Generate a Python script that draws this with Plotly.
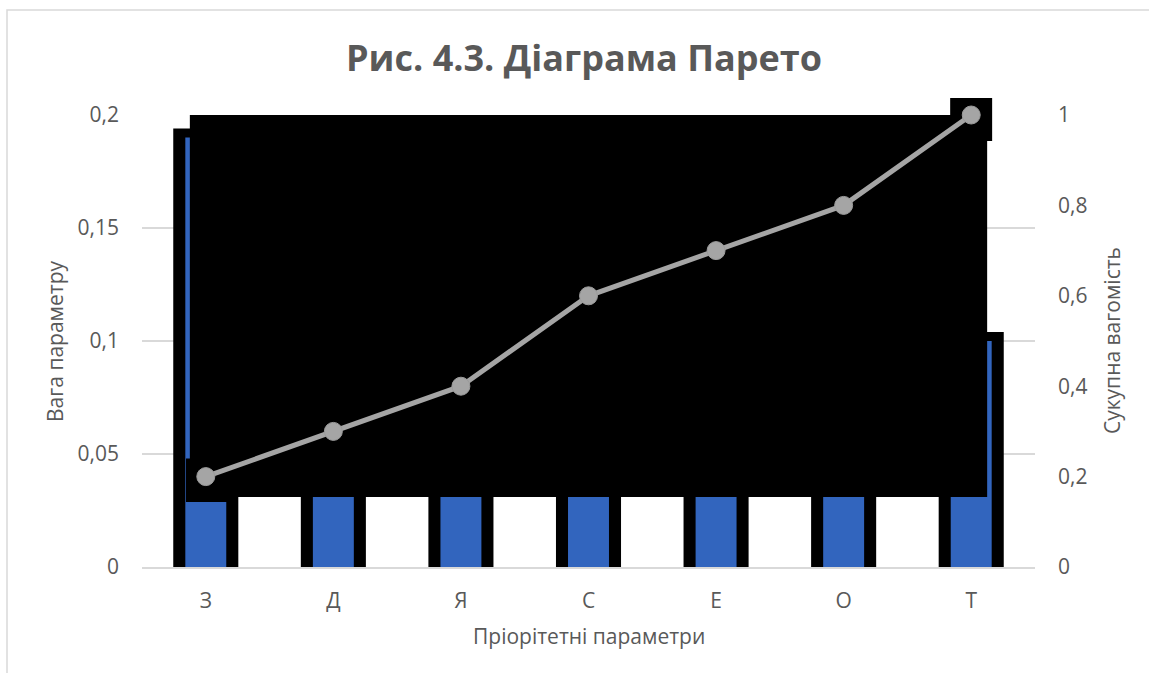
import plotly.graph_objects as go

# Pareto data: priority parameters, their weights and the cumulative share
categories = ["З", "Д", "Я", "С", "Е", "О", "Т"]
weights = [0.19, 0.10, 0.10, 0.20, 0.10, 0.10, 0.10]
cumulative = [0.2, 0.3, 0.4, 0.6, 0.7, 0.8, 1.0]

left_ticks = [0, 0.05, 0.1, 0.15, 0.2]
right_ticks = [0, 0.2, 0.4, 0.6, 0.8, 1.0]

# dark fill panel drawn over the upper part of the columns (data units)
panel_x = [-0.125, 6.125, 6.125, 0.17, 0.17, -0.155, -0.155, -0.125, -0.125]
panel_y = [0.2, 0.2, 0.031, 0.031, 0.0288, 0.0288, 0.048, 0.048, 0.2]
cap_x = [5.835, 6.164, 6.164, 5.835, 5.835]
cap_y = [0.2, 0.2, 0.1885, 0.1885, 0.2]

W, H = 1149, 673
ML, MR, MT, MB = 142, 114, 115, 106

grey_text = "#595959"
font_family = "Open Sans"
tick_size = 21

x_pos = list(range(len(categories)))
# dark frame behind each column, slightly taller than the column itself
frame_heights = [w + 0.004 for w in weights]

fig = go.Figure()

fig.add_trace(go.Bar(
    x=x_pos, y=frame_heights, width=0.51,
    marker=dict(color="#000000", line=dict(width=0)),
    hoverinfo="skip", showlegend=False,
))
fig.add_trace(go.Bar(
    x=x_pos, y=weights, width=0.321,
    marker=dict(color="#3265BE", line=dict(width=0)),
    hoverinfo="skip", showlegend=False,
))

fig.add_trace(go.Scatter(
    x=panel_x, y=panel_y, mode="none", fill="toself",
    fillcolor="#000000", hoverinfo="skip", showlegend=False,
))
fig.add_trace(go.Scatter(
    x=cap_x, y=cap_y, mode="none", fill="toself",
    fillcolor="#000000", hoverinfo="skip", showlegend=False,
))

fig.add_trace(go.Scatter(
    x=x_pos,
    y=cumulative,
    yaxis="y2",
    mode="lines+markers",
    line=dict(color="#A5A5A5", width=5),
    marker=dict(size=18, color="#A5A5A5", line=dict(color="#9B9B9B", width=1)),
    cliponaxis=False,
    hoverinfo="skip",
    showlegend=False,
))

fig.update_layout(
    width=W, height=H,
    margin=dict(l=ML, r=MR, t=MT, b=MB, pad=0),
    paper_bgcolor="#FFFFFF",
    plot_bgcolor="#FFFFFF",
    separators=", ",
    barmode="overlay",
    font=dict(family=font_family, color=grey_text, size=tick_size),
    title=dict(
        text="<b>Рис. 4.3. Діаграма Парето</b>",
        x=584 / W, xref="container", xanchor="center",
        y=1 - 58 / H, yref="container", yanchor="middle",
        font=dict(family=font_family, size=36, color=grey_text),
    ),
    xaxis=dict(
        range=[-0.5, 6.5],
        tickvals=x_pos,
        ticktext=categories,
        showgrid=False, zeroline=False,
        showline=True, linecolor="#D9D9D9", linewidth=2,
        ticks="", ticklabelstandoff=14,
        tickfont=dict(size=tick_size, color=grey_text),
        fixedrange=True,
    ),
    yaxis=dict(
        range=[0, 0.2],
        tickvals=left_ticks,
        showgrid=True, gridcolor="#D9D9D9", gridwidth=1.5,
        zeroline=False, showline=False,
        ticks="", ticklabelstandoff=22,
        tickfont=dict(size=tick_size, color=grey_text),
        fixedrange=True,
    ),
    yaxis2=dict(
        range=[0, 1],
        tickvals=right_ticks,
        overlaying="y", side="right",
        showgrid=False, zeroline=False, showline=False,
        ticks="", ticklabelstandoff=22,
        tickfont=dict(size=tick_size, color=grey_text),
        fixedrange=True,
    ),
    shapes=[
        # chart frame
        dict(type="rect", xref="paper", yref="paper",
             x0=(7 - ML) / (W - ML - MR), x1=1.2,
             y0=-0.3, y1=1 + (MT - 10) / (H - MT - MB),
             line=dict(color="#D9D9D9", width=1.5), fillcolor="rgba(0,0,0,0)",
             layer="below"),
        # part of the marker cap above the plot area
        dict(type="rect", xref="x", yref="paper",
             x0=5.835, x1=6.164, y0=1, y1=1 + 17 / (H - MT - MB),
             line=dict(width=0), fillcolor="#000000", layer="below"),
    ],
    annotations=[
        dict(text="Вага параметру", xref="paper", yref="paper",
             x=0, y=0.5, xshift=-87, textangle=-90,
             xanchor="center", yanchor="middle", showarrow=False,
             font=dict(size=tick_size, color=grey_text)),
        dict(text="Сукупна вагомість", xref="paper", yref="paper",
             x=1, y=0.5, xshift=77, textangle=-90,
             xanchor="center", yanchor="middle", showarrow=False,
             font=dict(size=tick_size, color=grey_text)),
        dict(text="Пріорітетні параметри", xref="paper", yref="paper",
             x=0.5, y=0, yshift=-69,
             xanchor="center", yanchor="middle", showarrow=False,
             font=dict(size=tick_size, color=grey_text)),
    ],
)

fig.write_html("out.html")
